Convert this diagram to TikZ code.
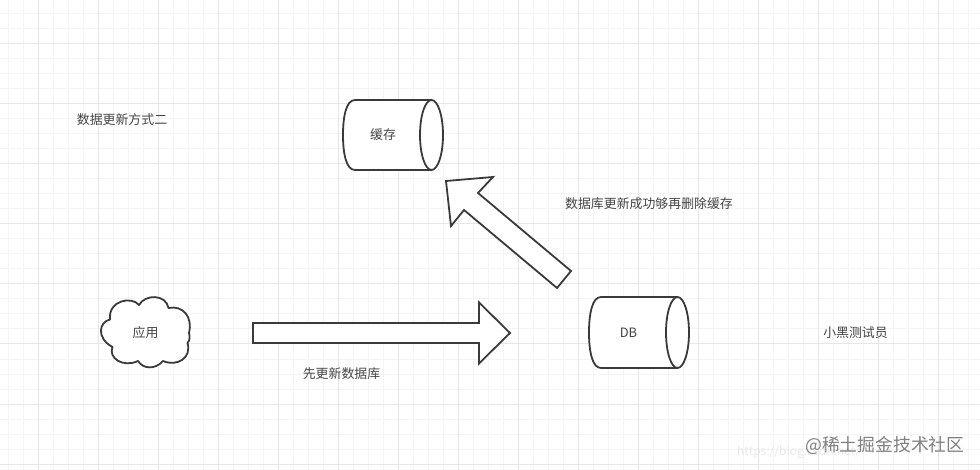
\documentclass[tikz,border=0pt]{standalone}
\usepackage{fontspec}
\setmainfont{Noto Sans CJK SC}
\definecolor{ink}{HTML}{3A3A3A}
\definecolor{txt}{HTML}{444444}
\definecolor{minorgrid}{HTML}{F4F4F4}
\definecolor{majorgrid}{HTML}{E6E6E6}
\definecolor{wm}{HTML}{808080}
\definecolor{wmfaint}{HTML}{E8E8E8}
\tikzset{
  x=1pt,y=-1pt,
  shapeline/.style={draw=ink,line width=1.8pt,fill=white,line join=miter},
  label/.style={text=txt,inner sep=0pt,font=\fontsize{12.9}{14}\selectfont},
  minorline/.style={draw=minorgrid,line width=1pt},
  majorline/.style={draw=majorgrid,line width=1pt}
}
\newcommand{\drum}[4]{% left, top, right, bottom
  \pgfmathsetmacro{\cxx}{#3-11.5}
  \pgfmathsetmacro{\lxx}{#1+12}
  \pgfmathsetmacro{\myy}{(#2+#4)/2}
  \pgfmathsetmacro{\ryy}{(#4-#2)/2}
  \draw[shapeline] (\cxx,#2) -- (\lxx,#2)
    .. controls (#1+3,#2) and (#1,\myy-18) .. (#1,\myy)
    .. controls (#1,\myy+18) and (#1+3,#4) .. (\lxx,#4) -- (\cxx,#4);
  \draw[shapeline] (\cxx,\myy) ellipse [x radius=11.5,y radius=\ryy];
}
\begin{document}
\begin{tikzpicture}
\useasboundingbox (0,0) rectangle (980,470);
\fill[white] (0,0) rectangle (980,470);
\foreach \i in {0,...,65} \draw[minorline] ({8+15*\i},0) -- ({8+15*\i},470);
\foreach \i in {0,...,31} \draw[minorline] (0,{-1+15*\i}) -- (980,{-1+15*\i});
\foreach \i in {0,...,16} \draw[majorline] ({38+60*\i},0) -- ({38+60*\i},470);
\foreach \i in {0,...,7} \draw[majorline] (0,{44+60*\i}) -- (980,{44+60*\i});

\drum{343}{100}{443}{170}
\drum{589}{297}{689}{368}

% cloud
\draw[shapeline,line join=round]
  (110,319.5)
  .. controls (108,300) and (132,296) .. (139,305)
  .. controls (145,294) and (166,294) .. (168.5,308)
  .. controls (183,305) and (193,317) .. (189,333)
  .. controls (190,337) and (190,340) .. (187.5,343)
  .. controls (192,358) and (177,367) .. (163,361)
  .. controls (155,370) and (143,369) .. (138,361)
  .. controls (123,368) and (108,358) .. (112.5,347)
  .. controls (96,338) and (99,322) .. (110,319.5) -- cycle;

% block arrows
\draw[shapeline] (253,323) -- (479,323) -- (479,302.5) -- (510,333) -- (479,363.5) -- (479,343) -- (253,343) -- cycle;
\draw[shapeline] (446,181) -- (493,177) -- (478,193) -- (571,271) -- (557,288) -- (464,210) -- (451,226) -- cycle;

% labels
\node[label] (title) at (122,119.5) {数据更新方式二};
\node[label] (cache) at (383,135) {缓存};
\node[label] (app) at (145.5,333) {应用};
\node[label] (db) at (628.5,333) {DB};
\node[label] (first) at (341.5,373.5) {先更新数据库};
\node[label] (then) at (649,203.5) {数据库更新成功够再删除缓存};
\node[label] (tester) at (855.5,333) {小黑测试员};
\node[inner sep=0pt,text=wmfaint,font=\fontsize{12}{14}\selectfont,anchor=west] (url) at (737,452) {https://blog.csdn.net/};
\node[inner sep=0pt,text=wm,font=\fontsize{17.8}{20}\selectfont,anchor=west] (mark) at (805,445) {@稀土掘金技术社区};
\end{tikzpicture}
\end{document}
